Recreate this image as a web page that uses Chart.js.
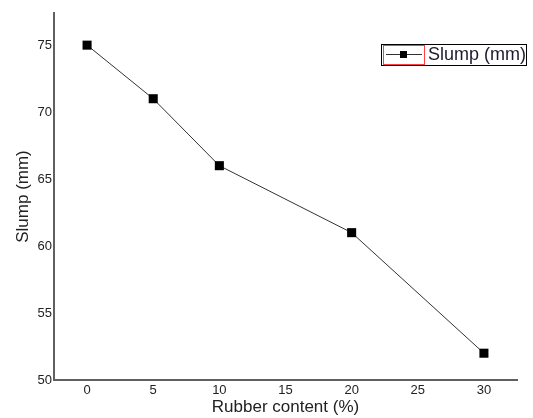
<!DOCTYPE html>
<html>
<head>
<meta charset="utf-8">
<script src="https://cdn.jsdelivr.net/npm/chart.js@4/dist/chart.umd.min.js"></script>
<style>
  html, body { margin: 0; padding: 0; background: #fff; }
  #wrap { width: 533px; height: 418px; }
</style>
</head>
<body>
<div id="wrap"><canvas id="c" width="533" height="418"></canvas></div>
<script>
/* ====== DATA ====== */
const rubberContent = [0, 5, 10, 20, 30];          // %
const slumpValues   = [75, 71, 66, 61, 52];        // mm
const xTicks = [0, 5, 10, 15, 20, 25, 30];
const yTicks = [50, 55, 60, 65, 70, 75];
const seriesName = "Slump (mm)";

const FONT = "'Liberation Sans', Arial, sans-serif";
const AXIS_COLOR = "#606060";

/* ====== LEGEND (drawn like the original plot software's box) ====== */
const legendBox = {
  id: "legendBox",
  afterDraw(chart){
    const ctx = chart.ctx;
    const x = 381, y = 44, w = 146, h = 22;
    ctx.save();
    ctx.fillStyle = "#fff";
    ctx.fillRect(x, y, w, h);
    // sample area outline
    ctx.strokeStyle = "#ff4040"; ctx.lineWidth = 1;
    ctx.strokeRect(x + 2.5, y + 1.5, 41, h - 3);
    ctx.strokeStyle = "#40e0e0";
    ctx.beginPath(); ctx.moveTo(x + 2, y + h - 0.5); ctx.lineTo(x + 44, y + h - 0.5); ctx.stroke();
    // sample line + marker
    ctx.strokeStyle = "#333"; ctx.lineWidth = 1;
    ctx.beginPath(); ctx.moveTo(x + 5, y + 10.5); ctx.lineTo(x + 41, y + 10.5); ctx.stroke();
    ctx.fillStyle = "#000";
    ctx.fillRect(x + 19, y + 7, 7, 7);
    // text
    ctx.fillStyle = "#1a1a2e";
    ctx.font = "18px " + FONT;
    ctx.textBaseline = "middle";
    ctx.fillText(seriesName, x + 47, y + 11.5);
    // outer border
    ctx.strokeStyle = "#000"; ctx.lineWidth = 1;
    ctx.strokeRect(x + 0.5, y + 0.5, w - 1, h - 1);
    ctx.restore();
  }
};

/* ====== CHART ====== */
new Chart(document.getElementById("c"), {
  type: "line",
  data: {
    datasets: [{
      label: seriesName,
      data: rubberContent.map((x, i) => ({ x, y: slumpValues[i] })),
      borderColor: "#333",
      borderWidth: 1,
      pointStyle: "rect",
      pointRadius: 6.4,
      pointHoverRadius: 6.4,
      pointBackgroundColor: "#000",
      pointBorderWidth: 0,
      tension: 0
    }]
  },
  options: {
    responsive: false,
    animation: false,
    layout: { padding: { left: 0, right: 16, top: 13, bottom: 0 } },
    plugins: { legend: { display: false }, tooltip: { enabled: false } },
    scales: {
      x: {
        type: "linear",
        min: -2.5, max: 32.5,
        afterBuildTicks: s => { s.ticks = xTicks.map(v => ({ value: v })); },
        afterFit: s => { s.height = 38; },
        grid: { display: false, drawTicks: false },
        border: { display: true, color: AXIS_COLOR, width: 2 },
        ticks: { color: "#222", padding: 3, font: { family: FONT, size: 13 } },
        title: {
          display: true, text: "Rubber content (%)", color: "#222",
          font: { family: FONT, size: 17 }, padding: { top: 0, bottom: 0 }
        }
      },
      y: {
        type: "linear",
        min: 50, max: 77.4,
        afterBuildTicks: s => { s.ticks = yTicks.map(v => ({ value: v })); },
        afterFit: s => { s.width = 54; },
        grid: { display: false, drawTicks: false },
        border: { display: true, color: AXIS_COLOR, width: 2 },
        ticks: { color: "#222", padding: 2, font: { family: FONT, size: 13 } },
        title: {
          display: true, text: "Slump (mm)", color: "#222",
          font: { family: FONT, size: 17 }, padding: { top: 13, bottom: 0 }
        }
      }
    }
  },
  plugins: [legendBox]
});
</script>
</body>
</html>
